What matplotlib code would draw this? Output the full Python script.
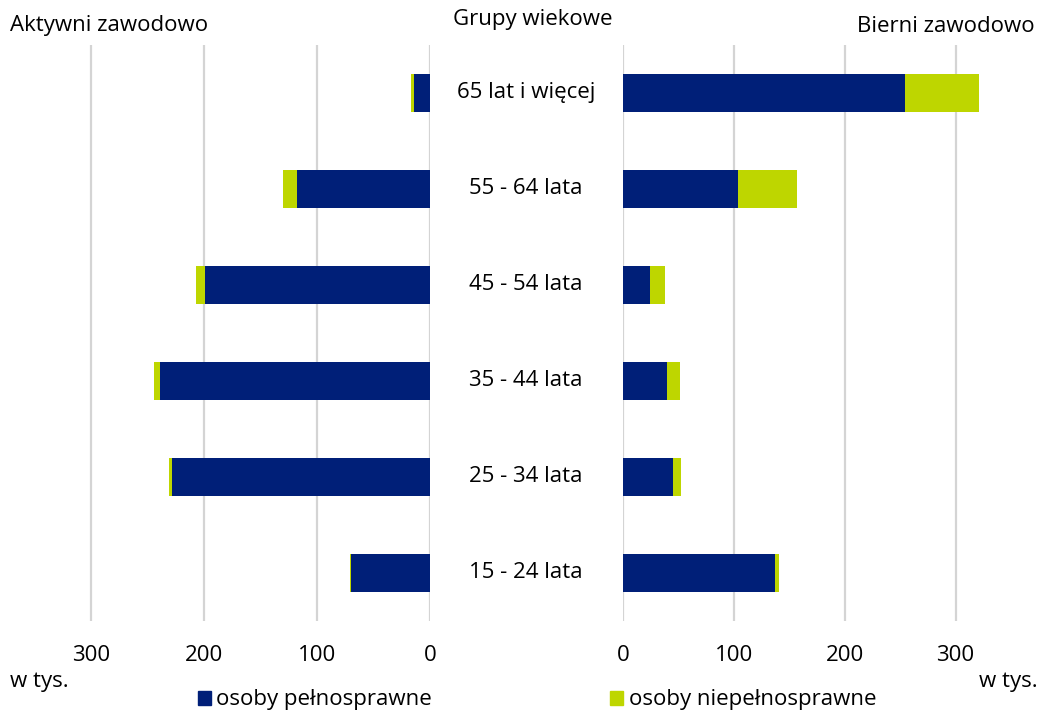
import matplotlib.pyplot as plt
from matplotlib.patches import Patch

plt.rcParams['font.family'] = ['Open Sans', 'DejaVu Sans']

age_groups = ["15 - 24 lata", "25 - 34 lata", "35 - 44 lata", "45 - 54 lata", "55 - 64 lata", "65 lat i więcej"]
# aktywni zawodowo (w tys.)
active_full = [70, 229, 239, 199, 118, 14]
active_dis = [1, 2, 6, 8, 12, 3]
# bierni zawodowo (w tys.)
passive_full = [137, 45, 40, 24, 104, 254]
passive_dis = [4, 7, 11, 14, 53, 67]
ticks = [0, 100, 200, 300]

NAVY = "#001F78"
GREEN = "#BED600"
GRID = "#D4D4D4"
FS = 16

W, H = 1043, 713
fig = plt.figure(figsize=(W / 100, H / 100), dpi=100)

bottom = (H - 621) / H
height = (621 - 45) / H
ax_l = fig.add_axes([35 / W, bottom, (430 - 35) / W, height])
ax_r = fig.add_axes([623 / W, bottom, (1011 - 623) / W, height])

y = range(len(age_groups))
for ax, full, dis in [(ax_l, active_full, active_dis), (ax_r, passive_full, passive_dis)]:
    ax.barh(y, full, height=0.4, color=NAVY, zorder=3)
    ax.barh(y, dis, left=full, height=0.4, color=GREEN, zorder=3)
    ax.set_xlim(0, 350)
    ax.set_ylim(-0.5, len(age_groups) - 0.5)
    ax.set_xticks(ticks)
    ax.set_yticks([])
    ax.grid(axis='x', color=GRID, linewidth=1.6, zorder=0)
    ax.tick_params(axis='x', length=0, pad=17, labelsize=FS)
    for s in ax.spines.values():
        s.set_visible(False)

ax_l.invert_xaxis()

# center labels
for i, g in enumerate(age_groups):
    yy = ax_l.transData.transform((0, i))[1]
    fig.text(526 / W, yy / fig.dpi / fig.get_figheight(), g, ha='center', va='center', fontsize=FS)

fig.text(10 / W, 1 - 26 / H, "Aktywni zawodowo", ha='left', va='center', fontsize=FS)
fig.text(533 / W, 1 - 20 / H, "Grupy wiekowe", ha='center', va='center', fontsize=FS)
fig.text(1035 / W, 1 - 26 / H, "Bierni zawodowo", ha='right', va='center', fontsize=FS)
fig.text(10 / W, 1 - 681 / H, "w tys.", ha='left', va='center', fontsize=FS)
fig.text(1038 / W, 1 - 681 / H, "w tys.", ha='right', va='center', fontsize=FS)

h1 = Patch(color=NAVY, label="osoby pełnosprawne")
h2 = Patch(color=GREEN, label="osoby niepełnosprawne")
fig.legend(handles=[h1, h2], loc='center', bbox_to_anchor=(537 / W, 1 - 700 / H), ncol=2,
           frameon=False, fontsize=FS, handlelength=0.6, handleheight=0.6,
           handletextpad=0.25, columnspacing=8.0, borderpad=0)

fig.savefig("out.png", dpi=100)
